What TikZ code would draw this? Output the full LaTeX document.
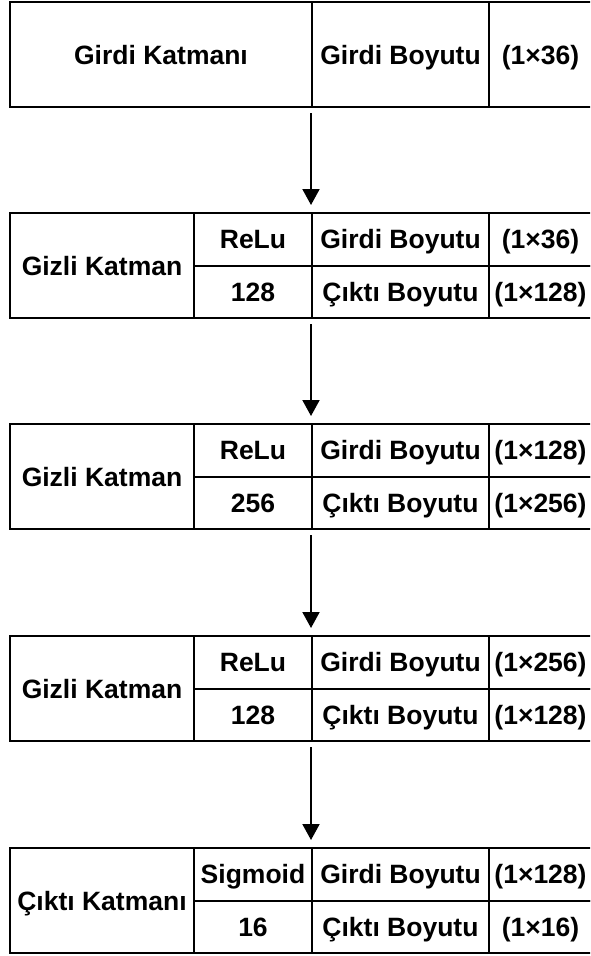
\documentclass[tikz,border=0pt]{standalone}
\usepackage{fontspec}
\setmainfont{Liberation Sans}
\usetikzlibrary{arrows.meta}
\begin{document}
\begin{tikzpicture}[x=1pt,y=-1pt,
  cell/.style={draw, line width=2pt, rectangle, anchor=north west,
    inner sep=0pt, outer sep=0pt, text height=19pt, text depth=0pt,
    font=\fontsize{26.5}{30}\selectfont\bfseries},
  tall/.style={cell, minimum height=105},
  half/.style={cell, minimum height=52.5},
  namecol/.style={minimum width=184},
  actcol/.style={minimum width=118},
  dimcol/.style={minimum width=177},
  sizecol/.style={minimum width=103},
  flow/.style={line width=2pt, -{Triangle[length=16pt,width=17pt]}}]
\useasboundingbox (0,0) rectangle (590,956);
\clip (0,0) rectangle (590,956);

% input layer
\node[tall, minimum width=302] (in) at (10,2) {Girdi Katmanı};
\node[tall, dimcol] (inD) at (312,2) {Girdi Boyutu};
\node[tall, sizecol] (inS) at (489,2) {(1×36)};

% hidden layer 1
\node[tall, namecol] (h1) at (10,213) {Gizli Katman};
\node[half, actcol] (h1a) at (194,213) {ReLu};
\node[half, actcol] (h1n) at (194,265.5) {128};
\node[half, dimcol] (h1i) at (312,213) {Girdi Boyutu};
\node[half, dimcol] (h1o) at (312,265.5) {Çıktı Boyutu};
\node[half, sizecol] (h1is) at (489,213) {(1×36)};
\node[half, sizecol] (h1os) at (489,265.5) {(1×128)};

% hidden layer 2
\node[tall, namecol] (h2) at (10,424) {Gizli Katman};
\node[half, actcol] (h2a) at (194,424) {ReLu};
\node[half, actcol] (h2n) at (194,476.5) {256};
\node[half, dimcol] (h2i) at (312,424) {Girdi Boyutu};
\node[half, dimcol] (h2o) at (312,476.5) {Çıktı Boyutu};
\node[half, sizecol] (h2is) at (489,424) {(1×128)};
\node[half, sizecol] (h2os) at (489,476.5) {(1×256)};

% hidden layer 3
\node[tall, namecol] (h3) at (10,636) {Gizli Katman};
\node[half, actcol] (h3a) at (194,636) {ReLu};
\node[half, actcol] (h3n) at (194,688.5) {128};
\node[half, dimcol] (h3i) at (312,636) {Girdi Boyutu};
\node[half, dimcol] (h3o) at (312,688.5) {Çıktı Boyutu};
\node[half, sizecol] (h3is) at (489,636) {(1×256)};
\node[half, sizecol] (h3os) at (489,688.5) {(1×128)};

% output layer
\node[tall, namecol] (out) at (10,848) {Çıktı Katmanı};
\node[half, actcol] (outa) at (194,848) {Sigmoid};
\node[half, actcol] (outn) at (194,900.5) {16};
\node[half, dimcol] (outi) at (312,848) {Girdi Boyutu};
\node[half, dimcol] (outo) at (312,900.5) {Çıktı Boyutu};
\node[half, sizecol] (outis) at (489,848) {(1×128)};
\node[half, sizecol] (outos) at (489,900.5) {(1×16)};

% flow between layers
\draw[flow] ([xshift=-1pt,yshift=-6pt]inD.south west) -- ([xshift=-1pt,yshift=8pt]h1i.north west);
\draw[flow] ([xshift=-1pt,yshift=-6pt]h1o.south west) -- ([xshift=-1pt,yshift=8pt]h2i.north west);
\draw[flow] ([xshift=-1pt,yshift=-6pt]h2o.south west) -- ([xshift=-1pt,yshift=8pt]h3i.north west);
\draw[flow] ([xshift=-1pt,yshift=-6pt]h3o.south west) -- ([xshift=-1pt,yshift=8pt]outi.north west);
\end{tikzpicture}
\end{document}
